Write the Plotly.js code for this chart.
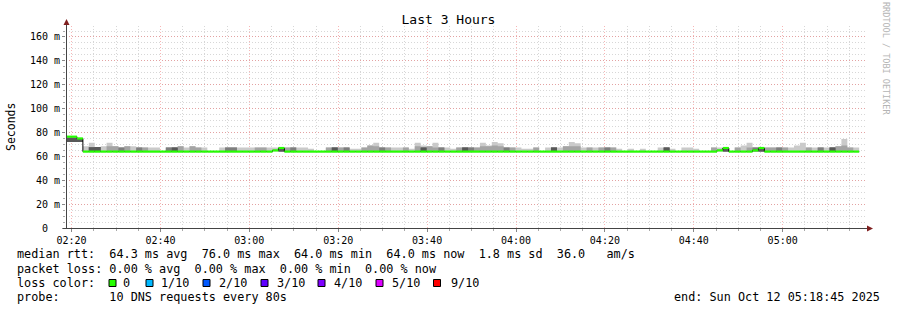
<!DOCTYPE html>
<html>
<head>
<meta charset="utf-8">
<script src="https://cdn.plot.ly/plotly-3.0.1.min.js"></script>
<style>html,body{margin:0;padding:0;background:#fff;}#chart{width:897px;height:310px;}</style>
</head>
<body>
<div id="chart"></div>
<script>
// ---- data: one value per 80 s bin, first bin starts 02:18:33 ----
const binStartTime = '2025-10-12 02:18:33';
const binSeconds = 80;
// median rtt (ms)
const median = [76.5,76.5,75,
 64,64,64,64,64,64,64,64,64,64,
 64,64,64,64,64,64,64,64,64,64,
 64,64,64,64,64,64,64,64,64,64,
 64,64,65,67,64,64,64,64,64,64,
 64,64,64,64,64,64,64,64,64,64,
 64,64,64,64,64,64,64,64,64,64,
 64,64,64,64,64,64,64,64,64,64,
 64,64,64,64,64,64,64,64,64,64,
 64,64,64,64,64,64,64,64,64,64,
 64,64,64,64,64,64,64,64,64,64,
 64,64,64,64,64,64,64,65,67,64,
 64,64,64,65,67,64,64,64,64,64,
 64,64,64,64,64,64,64,64,64,64,64];
// lowest ping (ms)
const pingLow = [72,72,72,
 64,64,64,64,64,64,64,64,64,64,
 64,64,64,64,64,64,64,64,64,64,
 64,64,64,64,64,64,64,64,64,64,
 64,64,64,64,64,64,64,64,64,64,
 64,64,64,64,64,64,64,64,64,64,
 64,64,64,64,64,64,64,64,64,64,
 64,64,64,64,64,64,64,64,64,64,
 64,64,64,64,64,64,64,64,64,64,
 64,64,64,64,64,64,64,64,64,64,
 64,64,64,64,64,64,64,64,64,64,
 64,64,64,64,64,64,64,64,64,64,
 64,64,64,64,64,64,64,64,64,64,
 64,64,64,64,64,64,64,64,64,64,64];
// sorted ping 10 (max)
const ping10 = [75.5,75.5,74.5,
 68.5,71.5,67.8,68.5,71.5,68.5,67.5,68.5,68.5,67.5,
 67.5,67.5,67.5,64,67.5,67.5,68.5,67.5,68.5,67.5,
 67.5,64,64,67.5,67.5,67.5,67.5,67.5,67.5,67.5,
 67.5,67.5,67.5,67,67.5,67.5,67.5,67.5,66.3,64,
 64,67.5,67.5,67.5,67.5,66.3,66.3,67.5,69,71.5,
 67.5,67.5,67.5,67.5,67.5,66.3,71.5,69,68.5,71.5,
 67.5,67.5,66.3,67.5,67.5,67.5,67.5,71.5,69,72,
 71,67.5,67.5,67.5,66.3,66.3,67.5,64,67.5,67.5,
 67.5,68.5,72,71,67.5,67.5,67.5,67.5,67.5,67.5,
 66.3,64,66.3,64,66.3,64,64,67.5,67.5,66.3,
 64,67.5,67.5,66.3,64,64,67.5,67.5,67,64,
 67.5,69,71.5,67.5,67,67.5,67.5,67.5,67.5,67.5,
 69,71.5,67.5,67.5,67.5,67.5,67.5,68.5,74.5,67.5,67.5];
// sorted ping 9
const ping9 = [75.5,75.5,74.5,
 64,67.7,67.8,64,68.5,68.5,67.5,68.5,64,67.5,
 67.5,64,64,64,67.5,67.5,68.5,64,68.5,67.5,
 64,64,64,64,67.5,67.5,64,64,64,67.5,
 67.5,64,64,67,67.5,67.5,64,64,64,64,
 64,67.5,67.5,67.5,67.5,64,64,67.5,69,68.5,
 67.5,67.5,64,64,67.5,64,68.5,67.5,68.5,67.5,
 67.5,64,64,67.5,67.5,67.5,67.5,68.5,68.5,69,
 68.5,67.5,67.5,64,64,64,67.5,64,64,67.5,
 64,68.5,68.5,68.5,64,67.5,64,67.5,67.5,67.5,
 64,64,64,64,64,64,64,64,67.5,64,
 64,64,64,64,64,64,67.5,64,67,64,
 67.5,64,67.5,67.5,67,67.5,67.5,67.5,67.5,64,
 64,64,67.5,64,67.5,64,67.5,68.5,69,67.5,64];
// sorted ping 8
const ping8 = [75.5,75.5,74.5,
 64,67.7,67.8,64,64,64,67.5,64,64,67.5,
 64,64,64,64,67.5,67.5,64,64,64,64,
 64,64,64,64,67.5,67.5,64,64,64,64,
 64,64,64,67,64,67.5,64,64,64,64,
 64,64,67.5,64,67.5,64,64,64,64,64,
 67.5,64,64,64,64,64,64,67.5,64,64,
 67.5,64,64,64,67.5,67.5,64,64,64,64,
 64,67.5,64,64,64,64,64,64,64,67.5,
 64,64,64,64,64,64,64,64,67.5,64,
 64,64,64,64,64,64,64,64,67.5,64,
 64,64,64,64,64,64,64,64,67,64,
 64,64,64,67.5,67,64,64,67.5,64,64,
 64,64,64,64,67.5,64,67.5,64,64,64,64];
// sorted ping 7
const ping7 = [75.5,75.5,74.5,
 64,67.7,67.8,64,64,64,64,64,64,64,
 64,64,64,64,64,67.5,64,64,64,64,
 64,64,64,64,64,64,64,64,64,64,
 64,64,64,67,64,64,64,64,64,64,
 64,64,67.5,64,64,64,64,64,64,64,
 64,64,64,64,64,64,64,67.5,64,64,
 64,64,64,64,67.5,64,64,64,64,64,
 64,64,64,64,64,64,64,64,64,67.5,
 64,64,64,64,64,64,64,64,64,64,
 64,64,64,64,64,64,64,64,67.5,64,
 64,64,64,64,64,64,64,64,67,64,
 64,64,64,64,67,64,64,64,64,64,
 64,64,64,64,64,64,67.5,64,64,64,64];
const yTickVals = [0,20,40,60,80,100,120,140,160];
const yTickText = ['0\u00A0\u00A0','20 m','40 m','60 m','80 m','100 m','120 m','140 m','160 m'];
const lossLabels = ['0','1/10','2/10','3/10','4/10','5/10','9/10'];
const lossColors = ['#26ff00','#00b8ff','#0059ff','#5e00ff','#7e00ff','#dd00ff','#ff0000'];

// ---- build ----
function fmt(ms){const d=new Date(ms);const p=n=>String(n).padStart(2,'0');
 return d.getUTCFullYear()+'-'+p(d.getUTCMonth()+1)+'-'+p(d.getUTCDate())+' '+p(d.getUTCHours())+':'+p(d.getUTCMinutes())+':'+p(d.getUTCSeconds());}
const t0 = Date.parse(binStartTime.replace(' ','T')+'Z');
const n = median.length;
const xs = []; for(let i=0;i<=n;i++) xs.push(fmt(t0+i*binSeconds*1000));
const ext = a => a.concat([a[a.length-1]]);

const traces = [];
function band(top,color){
  traces.push({x:xs,y:ext(pingLow),mode:'lines',line:{width:0,shape:'hv'},hoverinfo:'skip',showlegend:false});
  traces.push({x:xs,y:ext(top),mode:'lines',line:{width:0,shape:'hv'},fill:'tonexty',fillcolor:color,hoverinfo:'skip',showlegend:false});
}
band(ping10,'#cacaca');
band(ping9,'#a4a4a4');
band(ping8,'#7e7e7e');
band(ping7,'#585858');
traces.push({x:xs,y:ext(median),mode:'lines',line:{color:'#000',width:1,shape:'hv'},hoverinfo:'skip',showlegend:false});
const gx=[],gy=[];
for(let i=0;i<n;i++){gx.push(xs[i],xs[i+1],null);gy.push(median[i],median[i],null);}
traces.push({x:gx,y:gy,mode:'lines',line:{color:lossColors[0],width:2.2},hoverinfo:'skip',showlegend:false,connectgaps:false});

// pixel helpers
const L=66,T=26,W=800,H=202;
const px = x => (x-L)/W, py = y => (T+H-y)/H;
const mono='DejaVu Sans Mono';
const ann=[];
function txt(x,y,s,size,opts){ann.push(Object.assign({xref:'paper',yref:'paper',x:px(x),y:py(y),text:s.replace(/ /g,'\u00A0'),showarrow:false,xanchor:'left',yanchor:'middle',font:{family:mono,size:size,color:'#000'},borderpad:0},opts||{}));}
txt(16,254.5,'median rtt:  64.3 ms avg  76.0 ms max  64.0 ms min  64.0 ms now  1.8 ms sd  36.0   am/s',11.8);
txt(16,268.5,'packet loss: 0.00 % avg  0.00 % max  0.00 % min  0.00 % now',11.8);
txt(16,282.5,'loss color:',11.8);
txt(16,296.5,'probe:       10 DNS requests every 80s',11.8);
txt(881,296.5,'end: Sun Oct 12 05:18:45 2025',11.8,{xanchor:'right'});
txt(11,127,'Seconds',11.5,{xanchor:'center',textangle:-90});
txt(886,59,'RRDTOOL / TOBI OETIKER',8.5,{xanchor:'center',textangle:90,font:{family:mono,size:8.5,color:'#b4b4b4'}});
const boxX=[109,146,203,261,318,376,433.5], labX=[122,160,218,276,333,391,450];
const shapes=[];
for(let i=0;i<lossLabels.length;i++){
  shapes.push({type:'rect',xref:'paper',yref:'paper',x0:px(boxX[i]),x1:px(boxX[i]+7),y0:py(279.5),y1:py(286.5),fillcolor:lossColors[i],line:{color:'#000',width:1}});
  txt(labX[i],282.5,lossLabels[i],11.8);
}
// axes lines + arrows
shapes.push({type:'line',xref:'paper',yref:'paper',x0:px(66.5),x1:px(66.5),y0:py(228.5),y1:py(23),line:{color:'#444',width:1}});
shapes.push({type:'line',xref:'paper',yref:'paper',x0:px(63),x1:px(869),y0:py(228.5),y1:py(228.5),line:{color:'#444',width:1}});
shapes.push({type:'path',xref:'paper',yref:'paper',path:`M${px(63.5)},${py(25)} L${px(69.5)},${py(25)} L${px(66.5)},${py(19)} Z`,fillcolor:'#7f1f1f',line:{color:'#7f1f1f',width:0}});
shapes.push({type:'path',xref:'paper',yref:'paper',path:`M${px(867)},${py(225.5)} L${px(867)},${py(231.5)} L${px(873)},${py(228.5)} Z`,fillcolor:'#7f1f1f',line:{color:'#7f1f1f',width:0}});

const layout={
  width:897,height:310,margin:{l:L,r:897-L-W,t:T,b:310-T-H},
  paper_bgcolor:'#fff',plot_bgcolor:'#fff',showlegend:false,
  title:{text:'Last 3 Hours',font:{family:mono,size:13,color:'#000'},x:0.5,xref:'container',xanchor:'center',y:1-19.5/310,yref:'container',yanchor:'middle'},
  xaxis:{type:'date',range:['2025-10-12 02:18:45','2025-10-12 05:18:45'],tick0:'2025-10-12 02:20:00',dtick:1200000,tickformat:'%H:%M',
    showgrid:true,gridcolor:'rgba(240,110,110,0.5)',griddash:'1px,2px',gridwidth:1,zeroline:false,showline:false,
    ticks:'outside',ticklen:3,tickcolor:'#888',tickfont:{family:mono,size:10,color:'#000'},
    minor:{dtick:300000,showgrid:true,gridcolor:'rgba(140,140,140,0.35)',griddash:'1px,2px',ticks:'outside',ticklen:2,tickcolor:'#aaa'},fixedrange:true},
  yaxis:{range:[0,169.2],tickvals:yTickVals,ticktext:yTickText,
    showgrid:true,gridcolor:'rgba(240,110,110,0.5)',griddash:'1px,2px',zeroline:false,showline:false,
    ticks:'outside',ticklen:3,tickcolor:'#888',tickfont:{family:mono,size:10,color:'#000'},
    minor:{dtick:5,showgrid:true,gridcolor:'rgba(140,140,140,0.35)',griddash:'1px,2px',ticks:'outside',ticklen:2,tickcolor:'#aaa'},fixedrange:true},
  annotations:ann,shapes:shapes
};
Plotly.newPlot('chart',traces,layout,{staticPlot:true,displayModeBar:false});
</script>
</body>
</html>
